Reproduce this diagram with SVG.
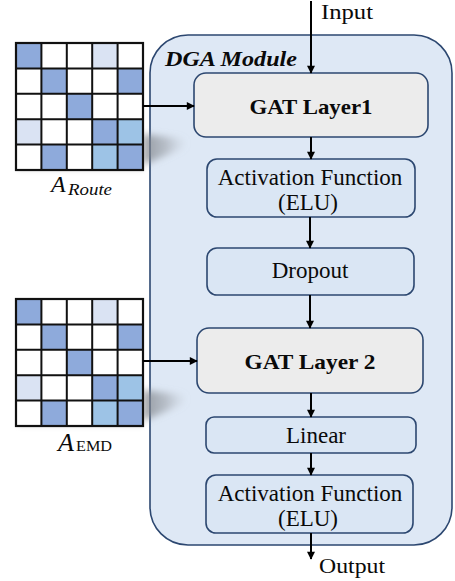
<svg xmlns="http://www.w3.org/2000/svg" width="455" height="581" viewBox="0 0 455 581" font-family="'Liberation Serif', 'Times New Roman', serif">
  <defs>
    <marker id="arrow" viewBox="0 0 10 10" refX="9" refY="5" markerWidth="4.5" markerHeight="4" orient="auto" markerUnits="strokeWidth">
      <path d="M0,0 L10,5 L0,10 Z" fill="#000"/>
    </marker>
    <linearGradient id="shadeGrad" x1="0" y1="0" x2="1" y2="0">
      <stop offset="0" stop-color="#7a7e84" stop-opacity="0.75"/>
      <stop offset="0.5" stop-color="#8c9096" stop-opacity="0.5"/>
      <stop offset="1" stop-color="#a0a4a9" stop-opacity="0"/>
    </linearGradient>
    <filter id="soft" x="-30%" y="-60%" width="160%" height="220%">
      <feGaussianBlur stdDeviation="3.5"/>
    </filter>
    <filter id="softer" x="-10%" y="-100%" width="120%" height="300%">
      <feGaussianBlur stdDeviation="2"/>
    </filter>
    <!-- 5x5 adjacency grid, 25.4px cells -->
    <g id="matrix">
      <rect x="0" y="0" width="127" height="127" fill="#fff"/>
      <rect class="c1" x="0" y="0" width="25.4" height="25.4"/>
      <rect class="c2" x="76.2" y="0" width="25.4" height="25.4"/>
      <rect class="c1" x="25.4" y="25.4" width="25.4" height="25.4"/>
      <rect class="c1" x="101.6" y="25.4" width="25.4" height="25.4"/>
      <rect class="c1" x="50.8" y="50.8" width="25.4" height="25.4"/>
      <rect class="c2" x="0" y="76.2" width="25.4" height="25.4"/>
      <rect class="c1" x="76.2" y="76.2" width="25.4" height="25.4"/>
      <rect class="c3" x="101.6" y="76.2" width="25.4" height="25.4"/>
      <rect class="c1" x="25.4" y="101.6" width="25.4" height="25.4"/>
      <rect class="c3" x="76.2" y="101.6" width="25.4" height="25.4"/>
      <rect class="c1" x="101.6" y="101.6" width="25.4" height="25.4"/>
      <path d="M25.4,0V127M50.8,0V127M76.2,0V127M101.6,0V127M0,25.4H127M0,50.8H127M0,76.2H127M0,101.6H127" stroke="#111" stroke-width="2" fill="none"/>
      <rect x="0" y="0" width="127" height="127" fill="none" stroke="#111" stroke-width="2.2"/>
    </g>
  </defs>
  <style>
    .c1 { fill: #8eaadb; }
    .c2 { fill: #dae3f3; }
    .c3 { fill: #9dc3e6; }
    .panel { fill: #dee8f5; stroke: #2c4770; stroke-width: 1.6; }
    .box { fill: #dae6f4; stroke: #2c4770; stroke-width: 1.6; }
    .gat { fill: #ececec; stroke: #2c4770; stroke-width: 1.6; }
    text { font-family: "Liberation Serif", "Times New Roman", serif; fill: #0a0a0a; }
    .lbl { font-size: 23px; text-anchor: middle; }
    .bold { font-size: 21px; font-weight: bold; text-anchor: middle; }
    .edge { stroke: #000; stroke-width: 2; fill: none; marker-end: url(#arrow); }
  </style>

  <!-- DGA module container -->
  <g id="dga-module">
    <rect class="panel" x="150" y="35" width="302" height="510" rx="38"/>
    <text x="165" y="66" font-size="22" font-weight="bold" font-style="italic" textLength="132" lengthAdjust="spacingAndGlyphs">DGA Module</text>
  </g>

  <!-- route adjacency matrix -->
  <g id="a-route">
    <rect x="18" y="166" width="125" height="5" fill="#aaa" opacity="0.35" filter="url(#softer)"/>
    <path d="M143,134 L186,139 L186,147 L143,165 Z" fill="url(#shadeGrad)" filter="url(#soft)"/>
    <use href="#matrix" x="16" y="43"/>
    <text x="51" y="192" font-size="24" font-style="italic">A</text>
    <text x="68" y="195" font-size="17" font-style="italic" textLength="44" lengthAdjust="spacingAndGlyphs">Route</text>
  </g>

  <!-- EMD adjacency matrix -->
  <g id="a-emd">
    <rect x="18" y="422" width="125" height="5" fill="#aaa" opacity="0.35" filter="url(#softer)"/>
    <path d="M143,390 L186,395 L186,403 L143,421 Z" fill="url(#shadeGrad)" filter="url(#soft)"/>
    <use href="#matrix" x="16" y="299"/>
    <text x="58" y="451" font-size="26" font-style="italic">A</text>
    <text x="76" y="451" font-size="15" textLength="36" lengthAdjust="spacingAndGlyphs">EMD</text>
  </g>

  <g id="gat1">
    <rect class="gat" x="194" y="73" width="234" height="64" rx="12"/>
    <text class="bold" x="311" y="114" textLength="123" lengthAdjust="spacingAndGlyphs">GAT Layer1</text>
  </g>

  <g id="act1">
    <rect class="box" x="207" y="159" width="208" height="58" rx="10"/>
    <text class="lbl" x="310" y="185">Activation Function</text>
    <text class="lbl" x="308" y="210">(ELU)</text>
  </g>

  <g id="dropout">
    <rect class="box" x="207" y="248" width="207" height="47" rx="10"/>
    <text class="lbl" x="310" y="278">Dropout</text>
  </g>

  <g id="gat2">
    <rect class="gat" x="197" y="328" width="226" height="65" rx="12"/>
    <text class="bold" x="310" y="369" textLength="131" lengthAdjust="spacingAndGlyphs">GAT Layer 2</text>
  </g>

  <g id="linear">
    <rect class="box" x="206" y="417" width="210" height="36" rx="8"/>
    <text class="lbl" x="316" y="443">Linear</text>
  </g>

  <g id="act2">
    <rect class="box" x="206" y="475" width="207" height="58" rx="10"/>
    <text class="lbl" x="310" y="501">Activation Function</text>
    <text class="lbl" x="308" y="526">(ELU)</text>
  </g>

  <g id="io-labels">
    <text x="321" y="19" font-size="21" textLength="52" lengthAdjust="spacingAndGlyphs">Input</text>
    <text x="319" y="573" font-size="21" textLength="66" lengthAdjust="spacingAndGlyphs">Output</text>
  </g>

  <g id="connectors">
    <line class="edge" x1="311" y1="1" x2="311" y2="73"/>
    <line class="edge" x1="311" y1="137" x2="311" y2="159"/>
    <line class="edge" x1="310" y1="217" x2="310" y2="248"/>
    <line class="edge" x1="310" y1="295" x2="310" y2="328"/>
    <line class="edge" x1="311" y1="393" x2="311" y2="417"/>
    <line class="edge" x1="311" y1="453" x2="311" y2="475"/>
    <line class="edge" x1="311" y1="533" x2="311" y2="559"/>
    <line class="edge" x1="143" y1="106" x2="194" y2="106"/>
    <line class="edge" x1="143" y1="361" x2="197" y2="361"/>
  </g>
</svg>
